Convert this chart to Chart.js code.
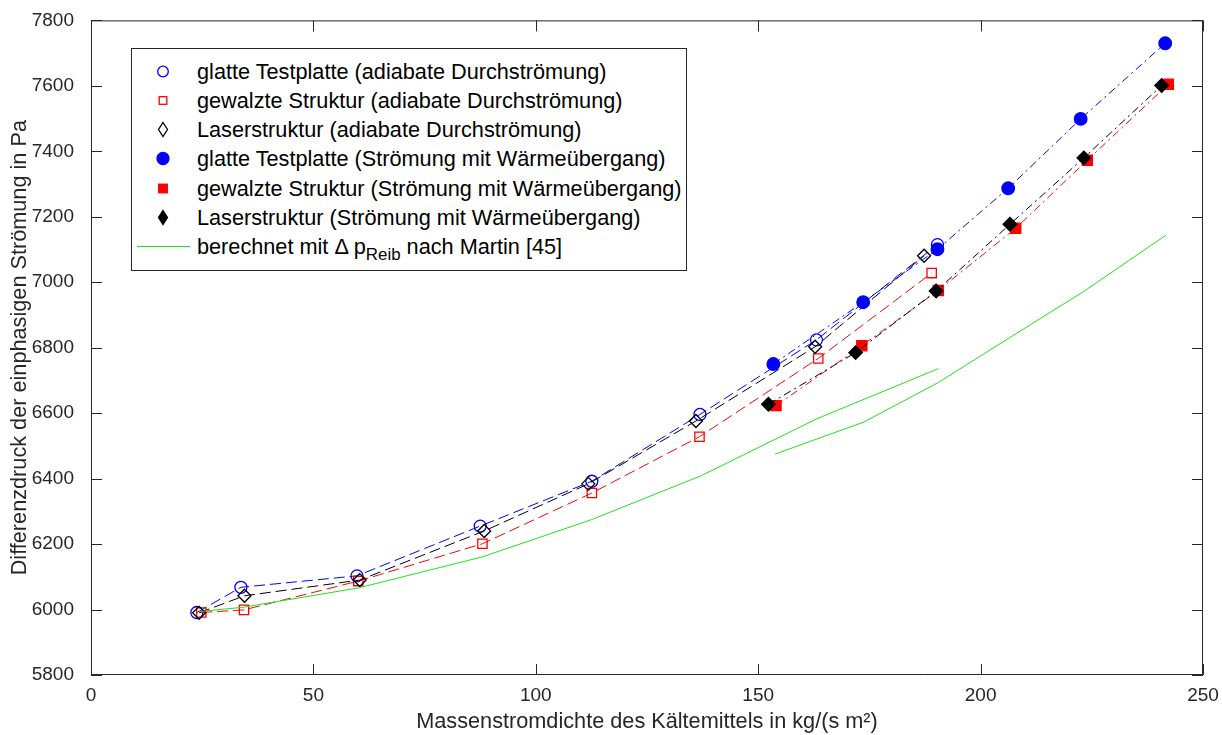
<!DOCTYPE html>
<html>
<head>
<meta charset="utf-8">
<title>Differenzdruck einphasige Strömung</title>
<script src="https://cdn.jsdelivr.net/npm/chart.js@4.4.1/dist/chart.umd.min.js"></script>
<style>
   html, body { margin: 0; padding: 0; background: #fff; }
   #wrap { position: relative; width: 1222px; height: 735px; }
   #legend {
      position: absolute; left: 131px; top: 48px; width: 554px; height: 221px;
      border: 1px solid #262626; background: #fff;
      font-family: Arial, "Liberation Sans", sans-serif; font-size: 21.7px; color: #000;
   }
   .row { position: absolute; left: 0; width: 554px; height: 29px; line-height: 29px; white-space: nowrap; }
   .row svg { position: absolute; left: 0; top: 0; }
   .row span { position: absolute; left: 65px; top: 0; }
   .row sub { font-size: 0.78em; vertical-align: -0.38em; line-height: 0; }
</style>
</head>
<body>
<div id="wrap">
   <canvas id="chart" width="1222" height="735"></canvas>
   <div id="legend"></div>
</div>
<script>
'use strict';

// adiabate Durchströmung
var adiabGlattX = [23.8, 33.7, 59.8, 87.5, 112.6, 136.9, 163.1, 190.3];
var adiabGlattY = [5991, 6068, 6103, 6255, 6392, 6596, 6824, 7115];
var adiabGewalztX = [24.8, 34.4, 60.1, 88.0, 112.6, 136.8, 163.5, 189.0];
var adiabGewalztY = [5991, 5999, 6087, 6201, 6356, 6528, 6767, 7028];
var adiabLaserX = [24.3, 34.5, 60.4, 88.4, 111.8, 136.0, 162.8, 187.3];
var adiabLaserY = [5990, 6042, 6090, 6240, 6384, 6576, 6803, 7081];

// Strömung mit Wärmeübergang
var heizGlattX = [153.4, 173.6, 190.3, 206.2, 222.5, 241.5];
var heizGlattY = [6750, 6939, 7101, 7287, 7499, 7730];
var heizGewalztX = [154.0, 173.3, 190.5, 207.9, 224.0, 242.2];
var heizGewalztY = [6623, 6806, 6975, 7165, 7373, 7605];
var heizLaserX = [152.3, 171.9, 190.0, 206.6, 223.2, 240.7];
var heizLaserY = [6627, 6785, 6973, 7177, 7380, 7601];

// berechnet nach Martin
var martinAdiabX = [24.5, 34.2, 60.1, 88.0, 112.6, 137.2, 163.2, 190.5];
var martinAdiabY = [5994, 6007, 6066, 6161, 6275, 6409, 6583, 6736];
var martinHeizX = [153.8, 173.6, 190.3, 206.8, 223.2, 241.7];
var martinHeizY = [6475, 6572, 6692, 6833, 6972, 7144];

var xTicks = [0, 50, 100, 150, 200, 250];
var yTicks = [5800, 6000, 6200, 6400, 6600, 6800, 7000, 7200, 7400, 7600, 7800];

var axisColor = '#262626';
var fontFamily = 'Arial, "Liberation Sans", sans-serif';

function toPoints(xs, ys) {
   return xs.map(function(x, i) {
      return { x: x, y: ys[i] };
   });
}

function series(label, xs, ys, color, style, filled, radius, dash, order) {
   return {
      label: label,
      data: toPoints(xs, ys),
      showLine: true,
      borderColor: color,
      borderWidth: 1,
      borderDash: dash,
      pointStyle: style,
      pointRadius: radius,
      pointHoverRadius: radius,
      pointBorderColor: color,
      pointBackgroundColor: filled ? color : 'rgba(0,0,0,0)',
      pointBorderWidth: 1.3,
      order: order
   };
}

var dashed = [11, 5];
var dashDot = [8, 4, 2, 4];

var datasets = [
   series('glatte Testplatte (adiabate Durchströmung)', adiabGlattX, adiabGlattY, '#0000ff', 'circle', false, 6, dashed, 7),
   series('gewalzte Struktur (adiabate Durchströmung)', adiabGewalztX, adiabGewalztY, '#ff0000', 'rect', false, 6.6, dashed, 6),
   series('Laserstruktur (adiabate Durchströmung)', adiabLaserX, adiabLaserY, '#000000', 'rectRot', false, 6.5, dashed, 5),
   series('glatte Testplatte (Strömung mit Wärmeübergang)', heizGlattX, heizGlattY, '#0000ff', 'circle', true, 6.3, dashDot, 4),
   series('gewalzte Struktur (Strömung mit Wärmeübergang)', heizGewalztX, heizGewalztY, '#ff0000', 'rect', true, 7.2, dashDot, 3),
   series('Laserstruktur (Strömung mit Wärmeübergang)', heizLaserX, heizLaserY, '#000000', 'rectRot', true, 6.8, dashDot, 2),
   series('berechnet mit \u0394 p<sub>Reib</sub> nach Martin [45]', martinAdiabX, martinAdiabY, '#22e022', false, false, 0, [], 1),
   series('', martinHeizX, martinHeizY, '#22e022', false, false, 0, [], 1)
];

function markerSvg(ds) {
   var c = ds.borderColor;
   var f = ds.pointBackgroundColor;
   var s = '<svg width="64" height="29" viewBox="0 0 64 29">';
   if (ds.pointStyle === 'circle') {
      s += '<circle cx="31" cy="14.5" r="' + (ds.pointBackgroundColor === c ? 6 : 5.3) + '" fill="' + f + '" stroke="' + c + '" stroke-width="1.3"/>';
   }
   else if (ds.pointStyle === 'rect') {
      var h = ds.pointBackgroundColor === c ? 4.3 : 3.8;
      s += '<rect x="' + (31 - h) + '" y="' + (14.5 - h) + '" width="' + 2 * h + '" height="' + 2 * h + '" fill="' + f + '" stroke="' + c + '" stroke-width="1.3"/>';
   }
   else if (ds.pointStyle === 'rectRot') {
      s += '<polygon points="31,7.5 35.5,14.5 31,21.5 26.5,14.5" fill="' + f + '" stroke="' + c + '" stroke-width="1.3"/>';
   }
   else {
      s += '<line x1="5" y1="14.5" x2="58" y2="14.5" stroke="' + c + '" stroke-width="1.2"/>';
   }
   return s + '</svg>';
}

function buildLegend() {
   var html = '';
   var top = 7.5;
   datasets.forEach(function(ds) {
      if (!ds.label) {
         return;
      }
      html += '<div class="row" style="top:' + top + 'px">' + markerSvg(ds) + '<span>' + ds.label + '</span></div>';
      top += 29.3;
   });
   document.getElementById('legend').innerHTML = html;
}

// box around the plot and inward ticks on all four sides (MATLAB style)
var boxPlugin = {
   id: 'matlabBox',
   afterDatasetsDraw: function(chart) {
      var ctx = chart.ctx;
      var a = chart.chartArea;
      var xs = chart.scales.x;
      var ys = chart.scales.y;
      var tl = 11;
      ctx.save();
      ctx.strokeStyle = axisColor;
      ctx.lineWidth = 1;
      ctx.beginPath();
      ctx.rect(a.left + 0.5, a.top + 0.5, a.right - a.left - 1, a.bottom - a.top - 1);
      xTicks.forEach(function(v) {
         var px = Math.round(xs.getPixelForValue(v)) + 0.5;
         ctx.moveTo(px, a.bottom);
         ctx.lineTo(px, a.bottom - tl);
         ctx.moveTo(px, a.top);
         ctx.lineTo(px, a.top + tl);
      });
      yTicks.forEach(function(v) {
         var py = Math.round(ys.getPixelForValue(v)) + 0.5;
         ctx.moveTo(a.left, py);
         ctx.lineTo(a.left + tl, py);
         ctx.moveTo(a.right, py);
         ctx.lineTo(a.right - tl, py);
      });
      ctx.stroke();
      ctx.restore();
   }
};

function fixedTicks(values) {
   return function(scale) {
      scale.ticks = values.map(function(v) {
         return { value: v };
      });
   };
}

function plainLabel(value) {
   return String(value);
}

Chart.defaults.font.family = fontFamily;
Chart.defaults.color = axisColor;

var chart = new Chart(document.getElementById('chart'), {
   type: 'scatter',
   data: { datasets: datasets },
   options: {
      responsive: false,
      animation: false,
      layout: { padding: { left: 0, top: 17, right: 19, bottom: 0 } },
      plugins: {
         legend: { display: false },
         tooltip: { enabled: false }
      },
      scales: {
         x: {
            type: 'linear',
            min: 0,
            max: 250,
            afterBuildTicks: fixedTicks(xTicks),
            afterFit: function(scale) { scale.height = 60; },
            grid: { display: false },
            border: { display: false },
            ticks: { font: { size: 19 }, color: axisColor, padding: 1, maxRotation: 0, callback: plainLabel },
            title: {
               display: true,
               text: 'Massenstromdichte des Kältemittels in kg/(s m²)',
               font: { size: 21.7 },
               color: axisColor,
               padding: { top: 2, bottom: 0 }
            }
         },
         y: {
            type: 'linear',
            min: 5800,
            max: 7800,
            afterBuildTicks: fixedTicks(yTicks),
            afterFit: function(scale) { scale.width = 91; },
            grid: { display: false },
            border: { display: false },
            ticks: { font: { size: 19 }, color: axisColor, padding: 9, callback: plainLabel },
            title: {
               display: true,
               text: 'Differenzdruck der einphasigen Strömung in Pa',
               font: { size: 21.7 },
               color: axisColor,
               padding: { top: 7, bottom: 0 }
            }
         }
      }
   },
   plugins: [boxPlugin]
});

buildLegend();
</script>
</body>
</html>
